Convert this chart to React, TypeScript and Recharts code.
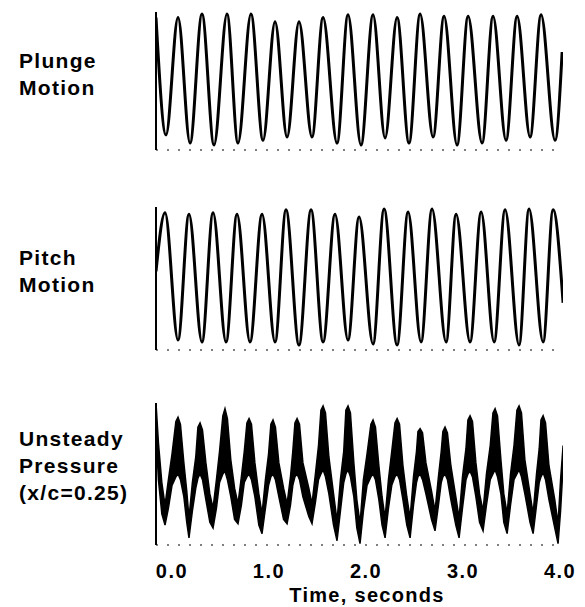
import { LineChart, Line, AreaChart, Area, XAxis, YAxis } from 'recharts';

const FONT = '"Liberation Sans", Arial, Helvetica, sans-serif';

// [time s, signal in % of panel full scale]
const plunge: [number, number][] = [
  [-0.165, 96], [-0.062, 11], [0.062, 96], [0.186, 5], [0.309, 98.5], [0.433, 3.6],
  [0.567, 98.5], [0.68, 5], [0.814, 98.5], [0.938, 7], [1.062, 93], [1.186, 9.4],
  [1.309, 93], [1.443, 9.4], [1.557, 96], [1.701, 5], [1.814, 98], [1.948, 3.6],
  [2.072, 98], [2.196, 8.7], [2.32, 96], [2.443, 5], [2.557, 98.5], [2.691, 9.4],
  [2.804, 97], [2.938, 3.6], [3.052, 97], [3.196, 5], [3.309, 97], [3.443, 7],
  [3.557, 97], [3.691, 9.4], [3.804, 98], [3.948, 7], [4.021, 71],
];

const pitch: [number, number][] = [
  [-0.165, 55], [-0.072, 96], [0.062, 7], [0.175, 95], [0.309, 5.6], [0.423, 96],
  [0.557, 5.6], [0.67, 95], [0.804, 5.6], [0.928, 95], [1.062, 5.6], [1.175, 98],
  [1.309, 3.5], [1.433, 98], [1.557, 5.6], [1.68, 95], [1.814, 7], [1.928, 93],
  [2.072, 4.2], [2.186, 98.6], [2.32, 3.5], [2.433, 96.5], [2.567, 5.6], [2.68, 98.6],
  [2.825, 5.6], [2.928, 95], [3.072, 5.6], [3.186, 96.5], [3.32, 5.6], [3.433, 98],
  [3.577, 3.5], [3.68, 98.6], [3.825, 5.6], [3.928, 98], [4.031, 33],
];

// [time s, lower edge, upper edge] of the noisy pressure trace
const pressure: [number, number, number][] = [
  [-0.165, 80, 100], [-0.14, 46, 72], [-0.105, 22, 44],
  [-0.072, 14, 28], [-0.037, 26, 46], [0.0, 42, 64], [0.04, 48, 87], [0.062, 50, 90], [0.087, 46, 85], [0.122, 34, 58], [0.152, 16, 38],
  [0.175, 5, 19], [0.21, 24, 44], [0.245, 40, 62], [0.267, 47, 83], [0.289, 50, 86], [0.314, 46, 81], [0.349, 32, 58], [0.39, 16, 36],
  [0.423, 12, 26], [0.458, 26, 46], [0.49, 44, 66], [0.524, 50, 91], [0.546, 52, 96], [0.571, 46, 89], [0.606, 34, 60], [0.645, 18, 40],
  [0.68, 15, 29], [0.715, 28, 48], [0.745, 44, 66], [0.772, 48, 86], [0.794, 50, 89], [0.819, 46, 85], [0.854, 34, 58], [0.895, 14, 36],
  [0.928, 8, 22], [0.963, 26, 46], [0.995, 42, 64], [1.019, 48, 85], [1.041, 50, 88], [1.066, 46, 83], [1.101, 34, 58], [1.15, 18, 40],
  [1.186, 15, 29], [1.221, 28, 48], [1.245, 42, 66], [1.267, 48, 86], [1.289, 50, 89], [1.314, 46, 85], [1.349, 34, 58], [1.41, 20, 40],
  [1.443, 15, 29], [1.478, 30, 50], [1.51, 46, 70], [1.535, 50, 95], [1.557, 53, 98], [1.582, 48, 93], [1.617, 36, 62], [1.665, 14, 36],
  [1.701, 3, 17], [1.736, 24, 46], [1.77, 44, 66], [1.792, 50, 95], [1.814, 53, 98], [1.839, 48, 93], [1.874, 34, 58], [1.905, 12, 32],
  [1.938, 1, 15], [1.973, 24, 46], [2.01, 42, 64], [2.05, 48, 85], [2.072, 50, 88], [2.097, 46, 83], [2.132, 32, 56], [2.165, 14, 34],
  [2.196, 5, 19], [2.231, 26, 46], [2.265, 42, 66], [2.298, 48, 86], [2.32, 50, 89], [2.345, 46, 85], [2.38, 32, 56], [2.42, 14, 34],
  [2.454, 5, 19], [2.489, 28, 48], [2.52, 44, 66], [2.535, 48, 80], [2.557, 50, 82], [2.582, 46, 79], [2.617, 36, 58], [2.675, 18, 38],
  [2.711, 10, 24], [2.746, 28, 48], [2.775, 44, 66], [2.792, 48, 80], [2.814, 50, 83], [2.839, 46, 79], [2.874, 32, 56], [2.925, 14, 34],
  [2.959, 5, 19], [2.994, 26, 48], [3.03, 46, 68], [3.05, 50, 88], [3.072, 52, 91], [3.097, 48, 87], [3.132, 34, 58], [3.17, 16, 36],
  [3.206, 10, 24], [3.241, 28, 50], [3.28, 46, 70], [3.308, 50, 93], [3.33, 53, 96], [3.355, 48, 91], [3.39, 36, 60], [3.42, 16, 36],
  [3.454, 8, 22], [3.489, 28, 50], [3.525, 46, 70], [3.555, 50, 95], [3.577, 53, 98], [3.602, 48, 93], [3.637, 36, 60], [3.69, 16, 36],
  [3.722, 8, 22], [3.757, 28, 50], [3.785, 44, 68], [3.803, 48, 88], [3.825, 51, 91], [3.85, 46, 86], [3.885, 32, 56], [3.945, 12, 32],
  [3.979, 1, 15], [4.005, 24, 46], [4.031, 56, 70],
];

const timeTicks = [0, 1, 2, 3, 4];
const panelLabels = [['Plunge', 'Motion'], ['Pitch', 'Motion'], ['Unsteady', 'Pressure', '(x/c=0.25)']];
const xLabel = 'Time, seconds';

const T_DOMAIN: [number, number] = [-0.165, 4.03];
const W = 585;
const ink = '#000';

const textStyle = {
  fontFamily: FONT,
  fontWeight: 700,
  fontSize: 21,
  letterSpacing: 1.3,
  color: ink,
};

const TimeTick = ({ x, y, payload }: any) => (
  <text
    x={x}
    y={y + 25}
    textAnchor="middle"
    fontFamily={FONT}
    fontWeight={700}
    fontSize={20}
    letterSpacing={1.5}
    fill={ink}
  >
    {Number(payload.value).toFixed(1)}
  </text>
);

function Axes({ showTicks }: { showTicks?: boolean }) {
  return [
    <XAxis
      key="x"
      dataKey="t"
      type="number"
      domain={T_DOMAIN}
      allowDataOverflow
      ticks={timeTicks}
      tick={showTicks ? <TimeTick /> : false}
      tickLine={false}
      height={showTicks ? 60 : 1}
      axisLine={{ stroke: ink, strokeWidth: 1.2, strokeDasharray: '2 9' }}
    />,
    <YAxis
      key="y"
      type="number"
      domain={[0, 100]}
      allowDataOverflow
      width={1}
      tick={false}
      tickLine={false}
      axisLine={{ stroke: ink, strokeWidth: 2 }}
    />,
  ];
}

function MotionPanel({ rows, top, height }: { rows: [number, number][]; top: number; height: number }) {
  const data = rows.map(([t, v]) => ({ t, v }));
  return (
    <div style={{ position: 'absolute', left: 0, top }}>
      <LineChart width={W} height={height} data={data} margin={{ top: 12, right: 22, bottom: 1, left: 155 }}>
        {Axes({})}
        <Line type="monotone" dataKey="v" stroke={ink} strokeWidth={3} dot={false} isAnimationActive={false} />
      </LineChart>
    </div>
  );
}

function PanelLabel({ lines, top }: { lines: string[]; top: number }) {
  return (
    <div style={{ ...textStyle, position: 'absolute', left: 19, top, lineHeight: '27px' }}>
      {lines.map((l) => (
        <div key={l}>{l}</div>
      ))}
    </div>
  );
}

export default function App() {
  const pData = pressure.map(([t, lo, hi]) => ({ t, band: [lo, hi] }));
  return (
    <div style={{ position: 'absolute', left: 0, top: 0, width: W, height: 607, background: '#fff' }}>
      <MotionPanel rows={plunge} top={0} height={152} />
      <MotionPanel rows={pitch} top={195} height={157} />
      <div style={{ position: 'absolute', left: 0, top: 390 }}>
        <AreaChart width={W} height={217} data={pData} margin={{ top: 13, right: 22, bottom: 2, left: 155 }}>
          {Axes({ showTicks: true })}
          <Area
            type="linear"
            dataKey="band"
            stroke={ink}
            strokeWidth={1.5}
            fill={ink}
            fillOpacity={1}
            dot={false}
            activeDot={false}
            isAnimationActive={false}
          />
        </AreaChart>
      </div>
      <PanelLabel lines={panelLabels[0]} top={47} />
      <PanelLabel lines={panelLabels[1]} top={244} />
      <PanelLabel lines={panelLabels[2]} top={425} />
      <div style={{ ...textStyle, fontSize: 20, position: 'absolute', left: 367, top: 584, transform: 'translateX(-50%)', whiteSpace: 'nowrap' }}>
        {xLabel}
      </div>
    </div>
  );
}
